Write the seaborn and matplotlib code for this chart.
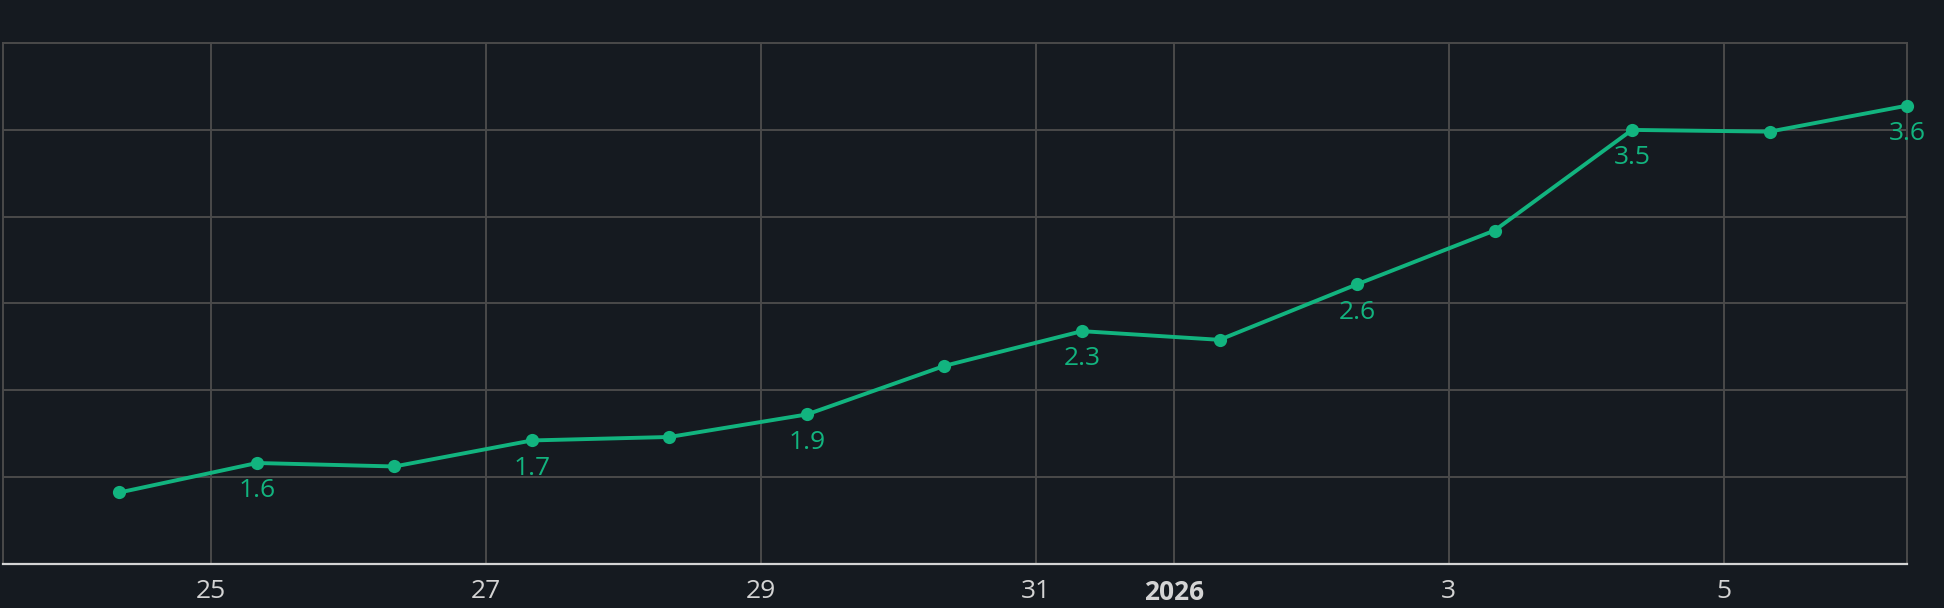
import pandas as pd
import matplotlib
matplotlib.use("Agg")
import matplotlib.pyplot as plt
import seaborn as sns

# daily readings, 08:00 each day
dates = pd.date_range("2025-12-24 08:00", periods=14, freq="D")
values = [1.41, 1.58, 1.56, 1.71, 1.73, 1.86, 2.14, 2.34, 2.29, 2.61, 2.92, 3.50, 3.49, 3.64]
label_idx = [1, 3, 5, 7, 9, 11, 13]

tick_dates = pd.to_datetime(["2025-12-25", "2025-12-27", "2025-12-29", "2025-12-31",
                             "2026-01-01", "2026-01-03", "2026-01-05"])
tick_labels = ["25", "27", "29", "31", "2026", "3", "5"]

bg = "#151a20"
green = "#12b47f"
grid = "#4a4a4a"
light = "#d4d4d4"

df = pd.DataFrame({"date": dates, "value": values})

sns.set_style("dark")
plt.rcParams["font.family"] = ["Open Sans", "DejaVu Sans"]

fig = plt.figure(figsize=(19.44, 6.08), dpi=100, facecolor=bg)
ax = fig.add_axes([0.0015, 0.073, 0.9795, 0.856])
ax.set_facecolor(bg)

sns.lineplot(data=df, x="date", y="value", ax=ax, color=green, linewidth=2.8,
             marker="o", markersize=9.5, markeredgewidth=0, zorder=3, clip_on=False)

for i in label_idx:
    ax.annotate(f"{values[i]:.1f}", (df["date"][i], values[i]), xytext=(0, -20),
                textcoords="offset points", ha="center", va="center",
                color=green, fontsize=19, annotation_clip=False, zorder=4)

ax.set_xlim(pd.Timestamp("2025-12-23 11:40"), dates[-1])
ax.set_ylim(1.0, 4.0)
ax.set_yticks([1.5, 2.0, 2.5, 3.0, 3.5])
ax.set_yticklabels([])
ax.tick_params(axis="y", length=0)

ax.set_xticks(tick_dates)
ax.set_xticklabels(tick_labels)
ax.tick_params(axis="x", colors=light, labelsize=19, length=7, width=1.5, pad=4)
for t in ax.get_xticklabels():
    t.set_color(light)
    if t.get_text() == "2026":
        t.set_fontweight("bold")

ax.grid(True, color=grid, linewidth=1.4)
ax.set_xlabel("")
ax.set_ylabel("")
for side in ["top", "left", "right"]:
    ax.spines[side].set_color(grid)
    ax.spines[side].set_linewidth(1.4)
ax.spines["bottom"].set_color(light)
ax.spines["bottom"].set_linewidth(1.6)

fig.savefig("out.png", dpi=100, facecolor=bg)
